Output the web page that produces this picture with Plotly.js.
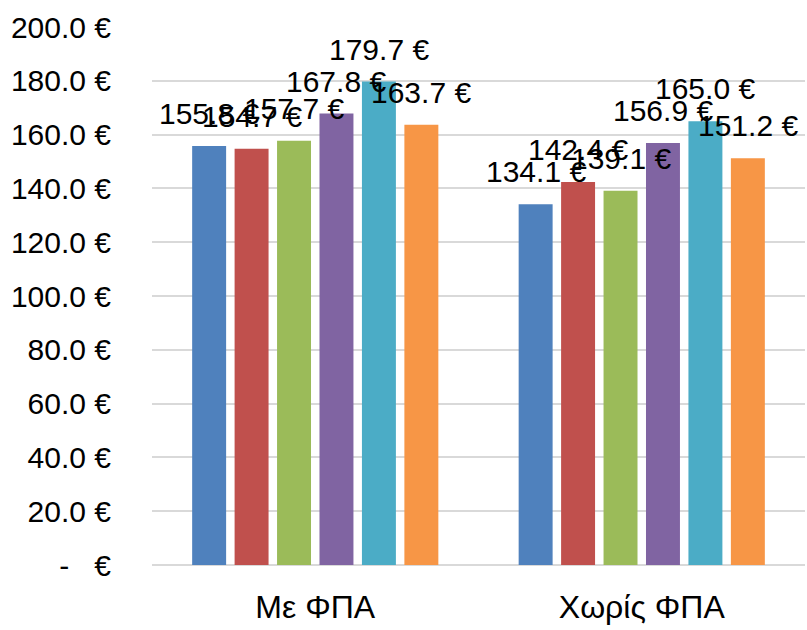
<!DOCTYPE html>
<html><head><meta charset="utf-8">
<script src="https://cdn.plot.ly/plotly-3.0.1.min.js"></script>
<style>body{margin:0}#c{width:807px;height:630px}</style>
</head><body><div id="c"></div>
<script>
const categories = ["Με ΦΠΑ", "Χωρίς ΦΠΑ"];
const seriesNames = ["Σειρά 1", "Σειρά 2", "Σειρά 3", "Σειρά 4", "Σειρά 5", "Σειρά 6"];
const s1 = [155.8, 134.1];
const s2 = [154.7, 142.4];
const s3 = [157.7, 139.1];
const s4 = [167.8, 156.9];
const s5 = [179.7, 165.0];
const s6 = [163.7, 151.2];
const colors = ["#4F81BD", "#C0504D", "#9BBB59", "#8064A2", "#4BACC6", "#F79646"];
const tickVals = [0, 20, 40, 60, 80, 100, 120, 140, 160, 180, 200];
const tickText = ["-\u00a0\u00a0\u00a0€", "20.0 €", "40.0 €", "60.0 €", "80.0 €", "100.0 €", "120.0 €", "140.0 €", "160.0 €", "180.0 €", "200.0 €"];

const FONT = "'Liberation Sans', Arial, sans-serif";
const BARGAP = 0.22;
const all = [s1, s2, s3, s4, s5, s6];
const data = all.map((vals, i) => ({
  type: "bar",
  name: seriesNames[i],
  x: categories,
  y: vals,
  marker: {color: colors[i]},
  hoverinfo: "none"
}));

const annotations = [];
const n = all.length;
all.forEach((vals, i) => {
  vals.forEach((v, c) => {
    annotations.push({
      x: c + (i - (n - 1) / 2) * (1 - BARGAP) / n,
      y: v,
      xref: "x", yref: "y",
      text: v.toFixed(1) + " €",
      showarrow: false,
      xanchor: "center", yanchor: "bottom",
      yshift: 14,
      font: {family: FONT, size: 30, color: "#000"}
    });
  });
});

const layout = {
  width: 807, height: 630,
  margin: {l: 152, r: 2, t: 27, b: 65},
  paper_bgcolor: "#fff", plot_bgcolor: "#fff",
  showlegend: false,
  barmode: "group",
  bargap: BARGAP,
  bargroupgap: 0.2,
  font: {family: FONT, size: 30, color: "#000"},
  annotations: annotations,
  xaxis: {
    type: "category",
    showgrid: false, showline: false, zeroline: false,
    ticks: "", tickfont: {family: FONT, size: 32, color: "#000"},
    ticklabelstandoff: 20
  },
  yaxis: {
    range: [0, 200],
    tickvals: tickVals, ticktext: tickText,
    showgrid: true, gridcolor: "#d9d9d9", gridwidth: 2,
    zeroline: true, zerolinecolor: "#d9d9d9", zerolinewidth: 2,
    showline: false, ticks: "",
    tickfont: {family: FONT, size: 30, color: "#000"},
    ticklabelstandoff: 40
  }
};
Plotly.newPlot("c", data, layout, {displayModeBar: false, staticPlot: true});
</script></body></html>
